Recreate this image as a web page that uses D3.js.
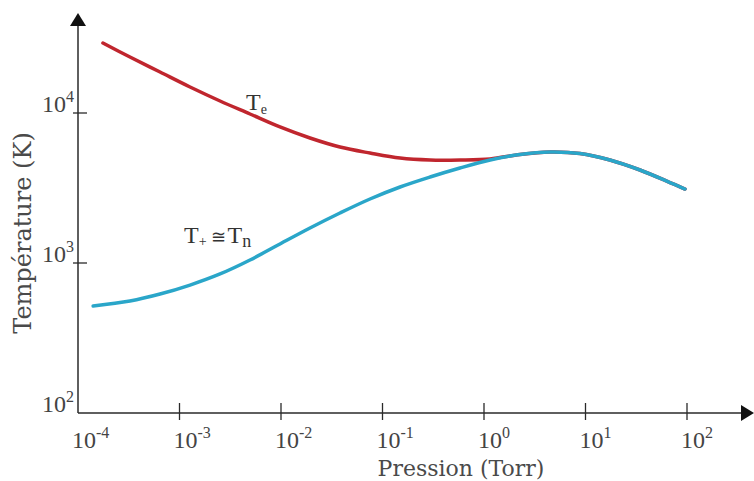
<!DOCTYPE html>
<html lang="fr">
<head>
  <meta charset="UTF-8">
  <title>Température vs Pression</title>
  <script src="https://d3js.org/d3.v7.min.js"></script>
  <style>
    html, body { margin: 0; padding: 0; background: #fff; overflow: hidden; }
    svg { display: block; }
    .tick-label { font-family: "Liberation Serif", serif; font-size: 24px; fill: #444; }
    .axis-title { font-family: "DejaVu Serif", serif; fill: #4a4a4a; }
    .curve-label { font-family: "Liberation Serif", serif; font-size: 24px; fill: #333; }
  </style>
</head>
<body>
<div id="chart"></div>
<script>
  // Tick exponents (powers of ten)
  const xExponents = [-4, -3, -2, -1, 0, 1, 2];
  const yExponents = [2, 3, 4];

  // Electron temperature Te (K) vs pressure (Torr)
  const tePressure = [1.76e-4, 3.25e-4, 6.43e-4, 1.27e-3, 2.51e-3, 4.95e-3, 9.77e-3, 0.0193, 0.0381, 0.0753, 0.149, 0.294, 0.580, 1.15, 2.26, 4.47, 8.83, 17.4, 34.4, 67.9, 95.5];
  const teTemp     = [29300, 23620, 18750, 14900, 12020, 9850, 8070, 6810, 5930, 5410, 5010, 4860, 4860, 4940, 5290, 5495, 5370, 4862, 4169, 3440, 3112];

  // Ion / neutral temperature T+ ≅ Tn (K) vs pressure (Torr)
  const tnPressure = [1.41e-4, 3.25e-4, 6.43e-4, 1.27e-3, 2.51e-3, 4.95e-3, 9.77e-3, 0.0193, 0.0381, 0.0753, 0.149, 0.294, 0.580, 1.15, 2.26, 4.47, 8.83, 17.4, 34.4, 67.9, 95.5];
  const tnTemp     = [517, 558, 621, 713, 845, 1047, 1339, 1711, 2154, 2671, 3211, 3742, 4297, 4862, 5290, 5495, 5370, 4862, 4169, 3440, 3112];

  const width = 754, height = 481;
  const x0 = 78, x1 = 687, yTop = 113, yBottom = 413;

  const svg = d3.select("#chart").append("svg")
    .attr("width", width)
    .attr("height", height);

  const x = d3.scaleLog().domain([1e-4, 1e2]).range([x0, x1]);
  const y = d3.scaleLog().domain([1e2, 1e4]).range([yBottom, yTop]);

  const axisColor = "#2a2a2a";

  // axes lines with arrows
  svg.append("line")
    .attr("x1", x0).attr("y1", yBottom).attr("x2", x0).attr("y2", 24)
    .attr("stroke", axisColor).attr("stroke-width", 1.5);
  svg.append("path")
    .attr("d", `M${x0},13 L${x0 - 8},26 L${x0 + 8},26 Z`)
    .attr("fill", "#111");

  svg.append("line")
    .attr("x1", x0).attr("y1", yBottom).attr("x2", 742).attr("y2", yBottom)
    .attr("stroke", axisColor).attr("stroke-width", 1.5);
  svg.append("path")
    .attr("d", `M754,${yBottom} L741,${yBottom - 8} L741,${yBottom + 8} Z`)
    .attr("fill", "#111");

  // x ticks
  xExponents.forEach(e => {
    const px = x(Math.pow(10, e));
    if (e !== -4) {
      svg.append("line")
        .attr("x1", px).attr("x2", px)
        .attr("y1", yBottom - 10).attr("y2", yBottom + 7)
        .attr("stroke", axisColor).attr("stroke-width", 1.3);
    }
    const t = svg.append("text").attr("class", "tick-label")
      .attr("x", px - 6).attr("y", 448);
    t.append("tspan").text("10");
    t.append("tspan").attr("dy", -10).attr("font-size", 16).text(e === 0 ? "0" : (e < 0 ? "-" + (-e) : e));
  });

  // y ticks
  yExponents.forEach(e => {
    const py = y(Math.pow(10, e));
    if (e !== 2) {
      svg.append("line")
        .attr("x1", x0 - 5).attr("x2", x0 + 9)
        .attr("y1", py).attr("y2", py)
        .attr("stroke", axisColor).attr("stroke-width", 1.3);
    }
    const t = svg.append("text").attr("class", "tick-label")
      .attr("x", 74).attr("y", py - 1).attr("text-anchor", "end");
    t.append("tspan").text("10");
    t.append("tspan").attr("dy", -10).attr("font-size", 16).text(e);
  });

  // axis titles
  svg.append("text").attr("class", "axis-title")
    .attr("x", 461).attr("y", 476).attr("text-anchor", "middle")
    .attr("font-size", 22)
    .text("Pression (Torr)");

  svg.append("text").attr("class", "axis-title")
    .attr("transform", "translate(31,233) rotate(-90)")
    .attr("text-anchor", "middle")
    .attr("font-size", 24)
    .text("Température (K)");

  // curves
  const line = d3.line()
    .x(d => x(d[0]))
    .y(d => y(d[1]))
    .curve(d3.curveCatmullRom.alpha(0.5));

  svg.append("path")
    .datum(d3.zip(tePressure, teTemp))
    .attr("d", line)
    .attr("fill", "none")
    .attr("stroke", "#c0262e")
    .attr("stroke-width", 3.5)
    .attr("stroke-linecap", "round");

  svg.append("path")
    .datum(d3.zip(tnPressure, tnTemp))
    .attr("d", line)
    .attr("fill", "none")
    .attr("stroke", "#2aa6c9")
    .attr("stroke-width", 3.5)
    .attr("stroke-linecap", "round");

  // curve labels
  const te = svg.append("text").attr("class", "curve-label")
    .attr("x", 246).attr("y", 110);
  te.append("tspan").text("T");
  te.append("tspan").attr("dy", 4).attr("font-size", 14).text("e");

  const tn = svg.append("text").attr("class", "curve-label")
    .attr("x", 184).attr("y", 243);
  tn.append("tspan").text("T");
  tn.append("tspan").attr("dy", 3).attr("font-size", 14).text("+");
  tn.append("tspan").attr("dy", -3).attr("font-size", 18).attr("dx", 4).text("≅");
  tn.append("tspan").attr("dx", 2).text("T");
  tn.append("tspan").attr("dy", 4).attr("font-size", 18).text("n");
</script>
</body>
</html>
